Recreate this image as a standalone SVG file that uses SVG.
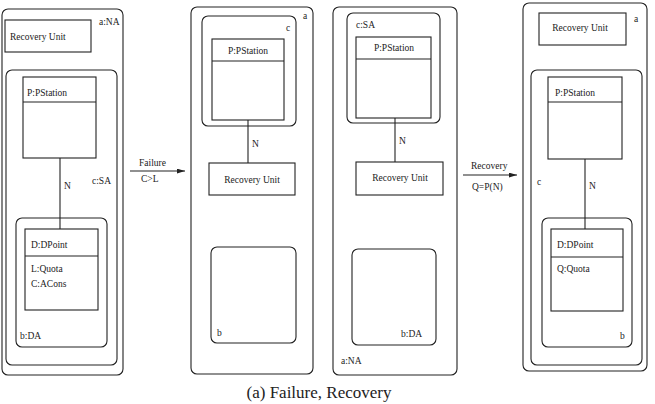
<svg xmlns="http://www.w3.org/2000/svg" width="655" height="404" viewBox="0 0 655 404">
<defs>
<marker id="ah" viewBox="0 0 10 6" refX="10" refY="3" markerWidth="8" markerHeight="5" orient="auto" markerUnits="userSpaceOnUse">
<path d="M0,0 L10,3 L0,6 z" fill="#222"/>
</marker>
</defs>
<rect width="655" height="404" fill="#fff"/>
<g fill="none" stroke="#222" stroke-width="1.1">
<g id="p1-a"><rect x="2" y="9" width="121" height="366" rx="6"/></g>
<g id="p1-ru"><rect x="5" y="20" width="86" height="32"/></g>
<g id="p1-c"><rect x="6" y="70" width="111" height="295" rx="6"/></g>
<g id="p1-p"><rect x="23" y="77" width="73" height="81"/><line x1="23" y1="102" x2="96" y2="102"/></g>
<g id="p1-b"><rect x="16" y="218" width="91" height="129" rx="6"/></g>
<g id="p1-d"><rect x="25" y="229" width="73" height="81"/><line x1="25" y1="256" x2="98" y2="256"/></g>
<g id="p2-a"><rect x="191" y="7" width="122" height="367" rx="6"/></g>
<g id="p2-c"><rect x="202" y="16" width="94" height="110" rx="6"/></g>
<g id="p2-p"><rect x="212" y="39" width="72" height="81"/><line x1="212" y1="61" x2="284" y2="61"/></g>
<g id="p2-ru"><rect x="209" y="163" width="86" height="32"/></g>
<g id="p2-b"><rect x="211" y="247" width="85" height="96" rx="6"/></g>
<g id="p3-a"><rect x="333" y="7" width="124" height="368" rx="6"/></g>
<g id="p3-c"><rect x="347" y="13" width="93" height="110" rx="6"/></g>
<g id="p3-p"><rect x="356" y="37" width="75" height="81"/><line x1="356" y1="59" x2="431" y2="59"/></g>
<g id="p3-ru"><rect x="356" y="162" width="87" height="33"/></g>
<g id="p3-b"><rect x="352" y="249" width="84" height="96" rx="6"/></g>
<g id="p4-a"><rect x="523" y="3" width="124" height="368" rx="6"/></g>
<g id="p4-ru"><rect x="539" y="13" width="87" height="32"/></g>
<g id="p4-c"><rect x="531" y="70" width="111" height="295" rx="6"/></g>
<g id="p4-p"><rect x="548" y="77" width="74" height="82"/><line x1="548" y1="102" x2="622" y2="102"/></g>
<g id="p4-b"><rect x="542" y="218" width="90" height="129" rx="6"/></g>
<g id="p4-d"><rect x="551" y="229" width="72" height="82"/><line x1="551" y1="257" x2="623" y2="257"/></g>
<g id="connectors">
<line x1="60" y1="158" x2="60" y2="229"/>
<line x1="248" y1="120" x2="248" y2="163"/>
<line x1="395" y1="118" x2="395" y2="162"/>
<line x1="585" y1="159" x2="585" y2="229"/>
<line x1="130" y1="171" x2="185" y2="171" marker-end="url(#ah)"/>
<line x1="463" y1="175" x2="517" y2="175" marker-end="url(#ah)"/>
</g>
</g>
<g id="labels" font-family="Liberation Serif" font-size="9.5" fill="#222">
<text x="99" y="25">a:NA</text>
<text x="10" y="40">Recovery Unit</text>
<text x="92" y="184">c:SA</text>
<text x="27" y="96">P:PStation</text>
<text x="20" y="339">b:DA</text>
<text x="31" y="248">D:DPoint</text>
<text x="31" y="272">L:Quota</text>
<text x="31" y="287">C:ACons</text>
<text x="303" y="19">a</text>
<text x="286" y="31">c</text>
<text x="248" y="54" text-anchor="middle">P:PStation</text>
<text x="252" y="183" text-anchor="middle">Recovery Unit</text>
<text x="217" y="336">b</text>
<text x="341" y="364">a:NA</text>
<text x="356" y="28">c:SA</text>
<text x="394" y="51" text-anchor="middle">P:PStation</text>
<text x="400" y="181" text-anchor="middle">Recovery Unit</text>
<text x="401" y="337">b:DA</text>
<text x="634" y="22">a</text>
<text x="580" y="31" text-anchor="middle">Recovery Unit</text>
<text x="537" y="185">c</text>
<text x="555" y="96">P:PStation</text>
<text x="620" y="339">b</text>
<text x="557" y="248">D:DPoint</text>
<text x="557" y="272">Q:Quota</text>
<text x="64" y="189">N</text>
<text x="252" y="147">N</text>
<text x="399" y="144">N</text>
<text x="589" y="189">N</text>
<text x="139" y="166">Failure</text>
<text x="141" y="182">C&gt;L</text>
<text x="471" y="169">Recovery</text>
<text x="472" y="190">Q=P(N)</text>
<text x="319" y="398" font-size="17" text-anchor="middle">(a) Failure, Recovery</text>
</g>
</svg>
